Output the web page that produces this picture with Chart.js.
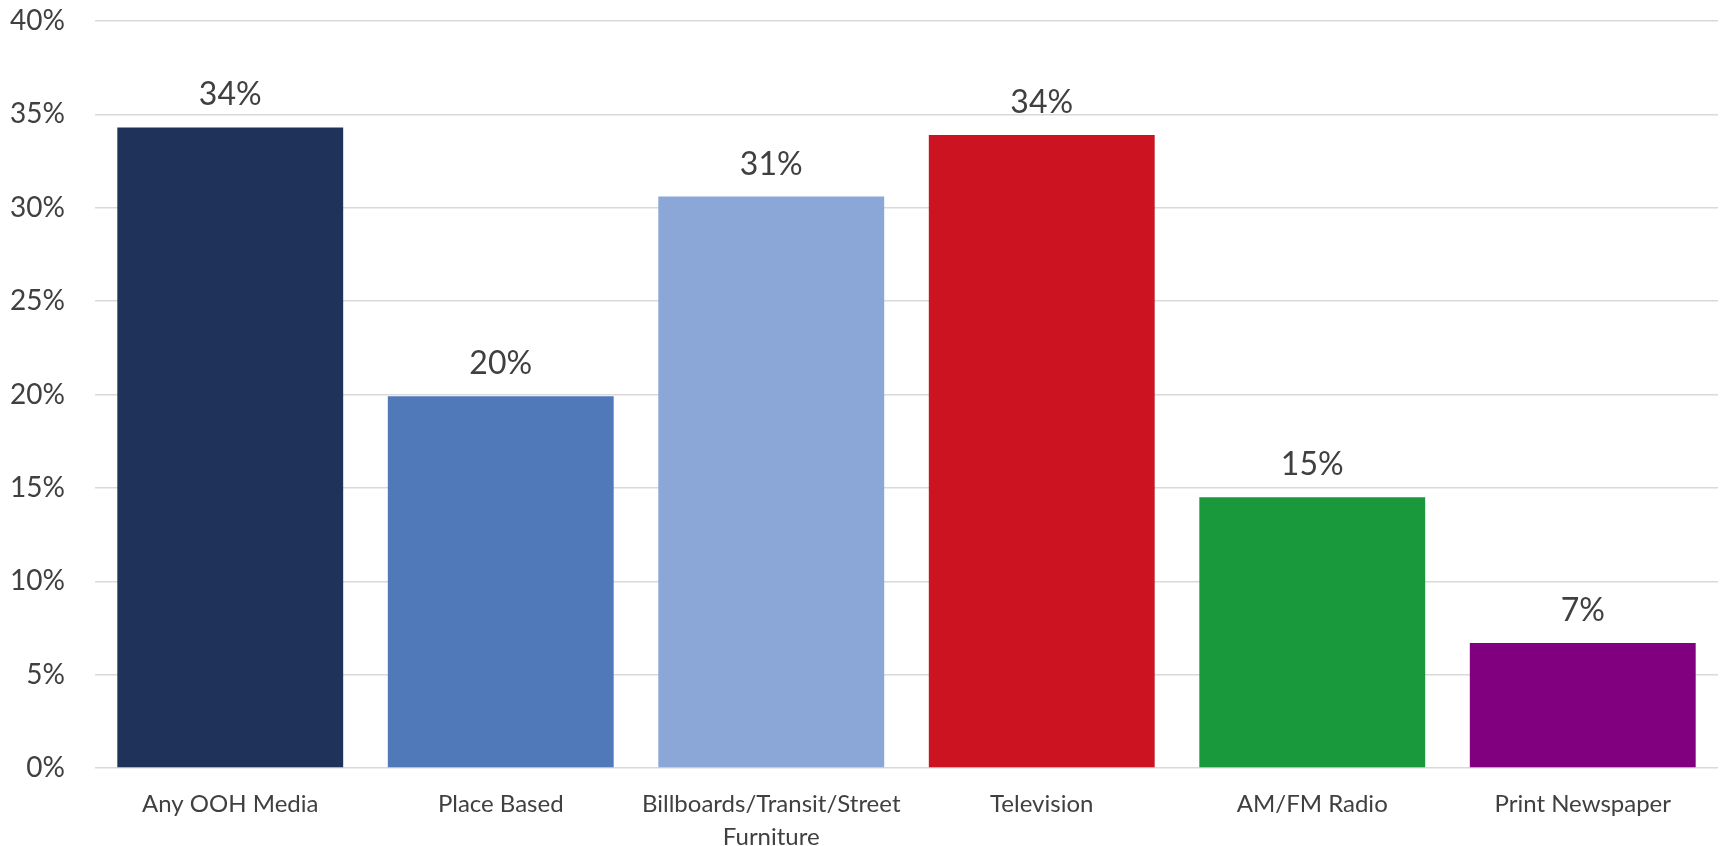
<!DOCTYPE html>
<html>
<head>
<meta charset="utf-8">
<script src="https://cdn.jsdelivr.net/npm/chart.js@4/dist/chart.umd.min.js"></script>
<style>
  html, body { margin: 0; padding: 0; background: #ffffff; }
  #wrap { width: 1723px; height: 846px; position: relative; }
</style>
</head>
<body>
<div id="wrap"><canvas id="chart"></canvas></div>
<script>
// Media categories (multi-line where the label wraps)
const categories = [
  'Any OOH Media',
  'Place Based',
  ['Billboards/Transit/Street', 'Furniture'],
  'Television',
  'AM/FM Radio',
  'Print Newspaper'
];

// Share of respondents, percent
const shares = [34.3, 19.9, 30.6, 33.9, 14.5, 6.7];

// Bar fill colours per category
const barColors = ['#1f3259', '#4f79b9', '#8aa7d8', '#cb1321', '#1a983c', '#81007f'];

// Value-axis ticks
const yTicks = [0, 5, 10, 15, 20, 25, 30, 35, 40];

const textColor = '#404040';
const fontFamily = 'Lato, "Open Sans", sans-serif';

// Writes each bar's rounded percentage above it
const valueLabels = {
  id: 'valueLabels',
  afterDatasetsDraw(chart) {
    const ctx = chart.ctx;
    const meta = chart.getDatasetMeta(0);
    ctx.save();
    ctx.font = '32px ' + fontFamily;
    ctx.fillStyle = textColor;
    ctx.textAlign = 'center';
    ctx.textBaseline = 'alphabetic';
    meta.data.forEach((bar, i) => {
      ctx.fillText(Math.round(shares[i]) + '%', bar.x, bar.y - 22);
    });
    ctx.restore();
  }
};

new Chart(document.getElementById('chart'), {
  type: 'bar',
  data: {
    labels: categories,
    datasets: [{
      data: shares,
      backgroundColor: barColors,
      borderWidth: 0,
      barPercentage: 1,
      categoryPercentage: 0.835
    }]
  },
  options: {
    responsive: true,
    maintainAspectRatio: false,
    animation: false,
    layout: { padding: { top: 0, right: 5, left: 0, bottom: 0 } },
    plugins: {
      legend: { display: false },
      tooltip: { enabled: false }
    },
    scales: {
      x: {
        grid: { display: false, drawTicks: false },
        border: { display: false },
        ticks: {
          color: textColor,
          font: { family: fontFamily, size: 24, lineHeight: 1.38 },
          padding: 20,
          maxRotation: 0,
          autoSkip: false
        },
        afterFit(scale) { scale.height = 78; }
      },
      y: {
        min: 0,
        max: 40,
        afterBuildTicks(scale) { scale.ticks = yTicks.map(v => ({ value: v })); },
        grid: { color: '#d9d9d9', lineWidth: 1.5, drawTicks: false },
        border: { display: false },
        ticks: {
          color: textColor,
          font: { family: fontFamily, size: 28, lineHeight: 1.2 },
          padding: 30,
          callback: v => v + '%'
        },
        afterFit(scale) {
          scale.width = 95;
          scale.paddingTop = 21;
          scale.paddingBottom = 0;
        }
      }
    }
  },
  plugins: [valueLabels]
});
</script>
</body>
</html>
